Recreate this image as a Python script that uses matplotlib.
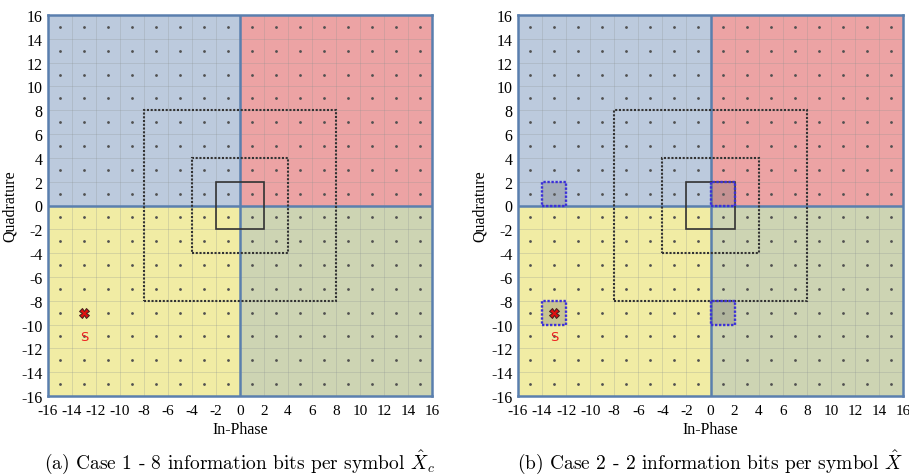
import numpy as np
import matplotlib
matplotlib.use("Agg")
import matplotlib.pyplot as plt
from matplotlib.patches import Rectangle

plt.rcParams['mathtext.fontset'] = 'cm'

# ---- data ----
levels = [-15, -13, -11, -9, -7, -5, -3, -1, 1, 3, 5, 7, 9, 11, 13, 15]
tick_vals = list(range(-16, 17, 2))
quadrants = [  # (x0, y0, color)
    (-16, 0, '#bccadd'),
    (0, 0, '#eca3a4'),
    (-16, -16, '#f1eca4'),
    (0, -16, '#cdd4b3'),
]
dotted_half_widths = [8, 4]
solid_half_width = 2
symbol_S = (-13, -9)
label_S_pos = (-13, -11)
case2_boxes = [(-14, 0), (0, 0), (-14, -10), (0, -10)]  # lower-left corners of 2x2 boxes
captions = [r"(a) Case 1 - 8 information bits per symbol $\hat{X}_c$",
            r"(b) Case 2 - 2 information bits per symbol $\hat{X}$"]

fig = plt.figure(figsize=(9.09, 4.77), dpi=100)
W, H = 909, 477
ax_specs = [(48, 16, 384, 381), (518, 16, 385, 381)]
axes = []
for (l, t, w, h) in ax_specs:
    ax = fig.add_axes([l / W, 1 - (t + h) / H, w / W, h / H])
    axes.append(ax)

serif = ['Liberation Serif', 'DejaVu Serif']
edge_blue = '#5a7fae'

for i, ax in enumerate(axes):
    ax.set_xlim(-16, 16)
    ax.set_ylim(-16, 16)
    for (x0, y0, c) in quadrants:
        ax.add_patch(Rectangle((x0, y0), 16, 16, facecolor=c, edgecolor='none', zorder=0))
    # faint grid
    for v in tick_vals:
        ax.axvline(v, color='#8a9090', lw=0.6, alpha=0.3, zorder=1)
        ax.axhline(v, color='#8a9090', lw=0.6, alpha=0.3, zorder=1)
    ax.axvline(0, color=edge_blue, lw=1.8, zorder=2)
    ax.axhline(0, color=edge_blue, lw=1.8, zorder=2)
    # constellation points
    X, Y = np.meshgrid(levels, levels)
    ax.scatter(X.ravel(), Y.ravel(), s=4, color='#505050', zorder=3, linewidths=0)
    # squares
    for hw in dotted_half_widths:
        ax.add_patch(Rectangle((-hw, -hw), 2 * hw, 2 * hw, fill=False,
                               edgecolor='#333333', lw=1.5, ls=(0, (1, 0.8)), zorder=4))
    ax.add_patch(Rectangle((-solid_half_width, -solid_half_width), 2 * solid_half_width,
                           2 * solid_half_width, fill=False, edgecolor='#333333', lw=1.2, zorder=4))
    if i == 1:
        for (bx, by) in case2_boxes:
            ax.add_patch(Rectangle((bx, by), 2, 2, facecolor='#6d6d6d', alpha=0.3,
                                   edgecolor='none', zorder=4))
            ax.add_patch(Rectangle((bx, by), 2, 2, fill=False, edgecolor='#3b2fd8',
                                   lw=1.7, ls=(0, (1, 0.7)), zorder=5))
    # symbol S
    ax.plot([symbol_S[0]], [symbol_S[1]], marker='X', ms=6.5, color='#e01010',
            markeredgecolor='#402020', markeredgewidth=0.7, zorder=6)
    ax.text(label_S_pos[0], label_S_pos[1], 'S', color='#ee2020', fontsize=9.5,
            ha='center', va='center', family='DejaVu Sans', zorder=6)

    ax.set_xticks(tick_vals)
    ax.set_yticks(tick_vals)
    ax.set_xticklabels([str(v) for v in tick_vals], family=serif, fontsize=11)
    ax.set_yticklabels([str(v) for v in tick_vals], family=serif, fontsize=11.5)
    ax.tick_params(axis='x', length=0, pad=6)
    ax.tick_params(axis='y', length=0, pad=4)
    for sp in ax.spines.values():
        sp.set_color(edge_blue)
        sp.set_linewidth(1.8)
    ax.set_xlabel('In-Phase', family=serif, fontsize=11.5, labelpad=3)
    ax.set_ylabel('Quadrature', family=serif, fontsize=11.5, labelpad=2)

for cx, cap in zip([240, 710], captions):
    fig.text(cx / W, 1 - 462 / H, cap, ha='center', va='center', fontsize=14,
             family=['cmr10', 'DejaVu Serif'])

fig.savefig('out.png', dpi=100)
